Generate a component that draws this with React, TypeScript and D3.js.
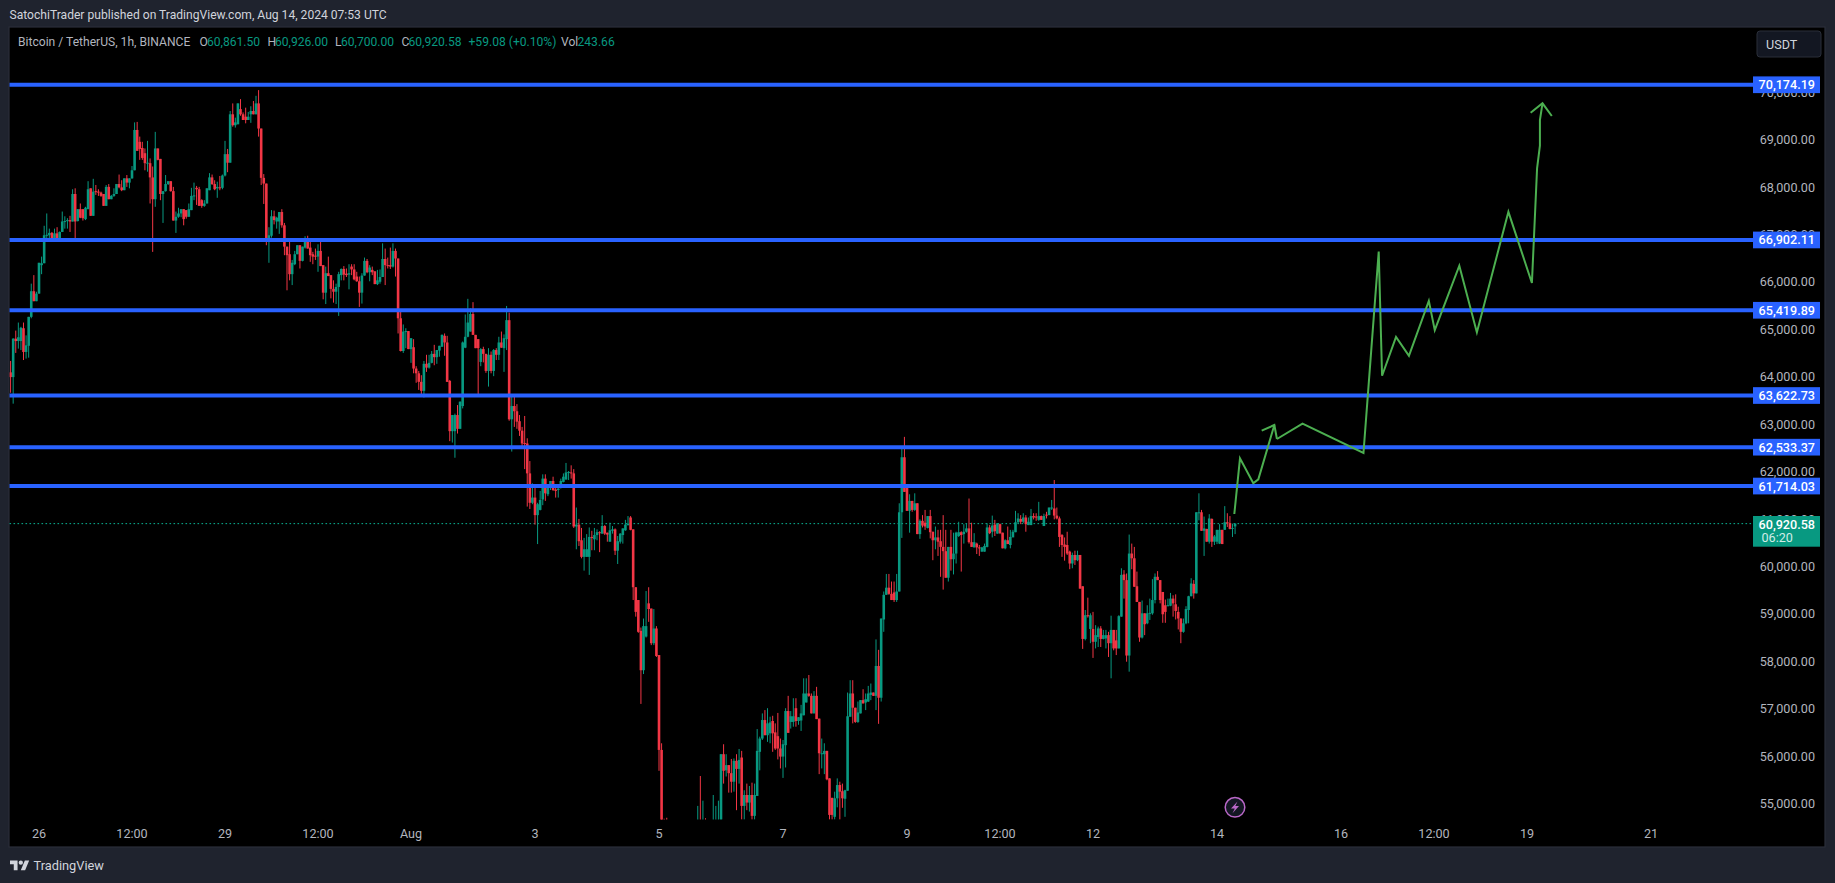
import React from "react";
import * as d3 from "d3";

// Hourly candles: [open, high, low, close]
const barsFromJul25 = [
[64110,64350,63680,64010],[64010,64830,63450,64820],[64820,64990,64520,64770],[64770,65160,64610,64850],[64770,65070,64580,65050],
[65040,65160,64370,64540],[64540,64890,64400,64680],[64670,65280,64420,65280],[65280,65980,65250,65820],[65820,66160,65610,65610],
[65610,65810,65610,65770],[65770,66420,65770,66420],[66370,66550,66180,66410],[66410,67200,66410,67000],[66990,67460,66920,67010],
[67000,67140,66860,67050],[67050,67070,66860,66900],[66900,67140,66860,67040],[67040,67170,66860,66860],[66860,67080,66860,67070],
[67070,67500,67070,67290],[67280,67400,67140,67300],[67300,67360,67140,67320],[67320,67410,67070,67290],[67290,67970,67290,67870],
[67870,67990,66880,67290],[67300,67550,67290,67550],[67550,67670,67360,67370],[67550,67550,67310,67360],[67340,67600,67320,67580],
[67550,68140,67550,67970],[67990,67990,67410,67410],[67410,68190,67410,67920],[67930,68060,67850,67920],[67920,67970,67830,67900],
[67900,67920,67810,67830],[67870,67870,67620,67620],[67620,68060,67620,68020],[68020,68080,67760,67760],[67760,67850,67760,67830],
[67830,67990,67810,67870],[67870,68080,67870,68080],[68080,68280,67990,68010],[68010,68160,67930,67950],[67950,68200,67950,68200],
[68200,68270,68020,68110],[68110,68200,67990,68200],[68200,68460,68190,68370],[68370,69380,68370,69220],[69220,69390,68780,68780],
[68970,69080,68590,68820],[68840,68970,68590,68630],[68730,68830,68370,68520],[68520,68990,68340,68530],[68520,68620,67670,68220],
[68220,68450,66650,67760],[67760,69180,67600,68830],[68830,68830,68580,68590],[68610,68610,67740,67870],[67870,67930,67260,67930],
[67930,68270,67920,68080],[68080,68140,68060,68140],[68140,68140,67920,67930],[67930,68020,67310,67310],[67310,67500,67050,67390],
[67390,67580,67370,67460],[67460,67550,67380,67550],[67550,67550,67210,67340],[67530,67530,67350,67390],[67390,67670,67390,67550],
[67530,68000,67530,67830],[67830,68110,67740,67840],[68000,68040,67640,67970],[67970,68020,67620,67620],[67740,67760,67580,67620],
[67620,67740,67600,67670],[67670,67990,67670,67990],[67950,68310,67950,68220],[68220,68280,68060,68080],[68080,68160,67950,67970],
[67990,68130,67790,68020],[68010,68250,67950,68000],[68000,68280,67970,68260],[68260,68990,68240,68710],[68710,68820,68330,68530],
[68530,69620,68530,69550],[69550,69780,69290,69320],[69320,69480,69270,69380],[69340,69780,69340,69780],[69660,69870,69520,69550],
[69550,69590,69430,69430],[69500,69690,69360,69430],[69430,69600,69430,69500],[69550,69720,69370,69620],[69620,69830,69550,69550],
[69550,69940,69550,69780],[69780,70060,69080,69250],[69250,69250,68060,68210],[68210,68290,67660,68090],[68090,68090,66790,66900],
];
const barsFromJul29 = [
[66900,67170,66420,67000],[66990,67530,66950,67400],[67400,67520,67230,67320],[67290,67390,67140,67370],[67290,67490,67030,67490],
[67490,67550,67160,67210],[67210,67260,66580,66760],[66760,66760,65840,66580],[66600,66880,66050,66180],[66180,66480,65950,66420],
[66390,66670,66370,66600],[66600,66790,66600,66790],[66790,66790,66300,66460],[66460,66760,66450,66760],[66740,66980,66720,66930],
[66930,66990,66720,66720],[66740,66900,66440,66580],[66600,66650,66390,66550],[66570,66720,66480,66550],[66550,66810,66230,66670],
[66670,66930,66350,66350],[66370,66370,65650,65790],[65790,66340,65550,66200],[66200,66550,66140,66140],[66160,66160,65670,65870],
[65870,66050,65580,65810],[65810,65980,65550,65910],[65910,66230,65300,66180],[66160,66300,66050,66290],[66290,66350,66050,66170],
[66190,66300,66120,66160],[66170,66390,65860,66200],[66340,66390,66160,66280],[66280,66390,66050,66070],[66130,66230,66020,66030],
[66030,66130,65490,65790],[65790,66200,65560,66150],[66150,66530,66150,66460],[66460,66500,66200,66220],[66220,66370,66030,66320],
[66270,66340,66160,66220],[66240,66240,65970,65970],[65970,66270,65950,66050],[66020,66280,65980,66120],[66120,66830,66120,66500],
[66500,66720,65950,66370],[66370,66530,66300,66360],[66370,66740,66290,66340],[66340,66830,66320,66670],[66670,66720,66130,66510],
[66510,66510,64930,65250],[65250,65390,64550,64560],[64560,65120,64520,64970],[64970,65040,64620,64980],[64980,64980,64600,64600],
[64600,64830,64310,64830],[64640,64810,64090,64190],[64190,64240,63890,64090],[64090,64140,63740,63910],[63910,64050,63620,63720],
[63720,64350,63580,64290],[64290,64480,64120,64210],[64210,64480,64190,64310],[64310,64560,64300,64500],[64500,64690,64260,64430],
[64430,64580,64290,64580],[64570,64670,64440,64670],[64650,64910,64650,64900],[64880,64930,64460,64740],[64740,64880,63910,63910],
[63930,63950,62660,62870],[62870,63210,62630,63210],[62870,63240,62310,63210],[63210,63420,62820,62920],[62920,63500,62920,63490],
[63400,64760,63350,64740],[64630,65330,64620,64860],[64860,65660,64850,65160],[64970,65460,64970,65340],[65340,65590,64900,64900],
[64900,64900,64620,64620],[64810,64810,63650,64620],[64330,64620,64240,64600],[64600,64650,64320,64500],[64500,64500,64100,64140],
[64140,64620,63810,64480],[64480,64550,64090,64140],[64140,64600,64030,64580],[64580,64620,64370,64480],[64480,64860,64370,64740],
[64740,64970,64630,64630],[64620,64910,64120,64830],[64810,65510,64580,65210],[65210,65370,63090,63120],[63120,63630,62440,63400],
[63400,63600,62960,63290],[63290,63440,62920,63070],[63080,63210,62770,62880],[62880,62960,62520,62610],[62620,63190,62070,62600],
];
const barsFromAug2 = [
[62610,62720,61280,61980],[61980,62240,61230,61360],[61360,61770,61330,61470],[61470,61700,60900,61100],[61100,61360,60490,61330],
[61210,61610,61200,61420],[61430,61960,61310,61870],[61870,61960,61400,61560],[61540,61750,61500,61750],[61730,61820,61630,61820],
[61820,61910,61610,61630],[61640,61710,61470,61610],[61630,61730,61470,61660],[61680,61870,61660,61820],[61800,61980,61790,61910],
[61850,62200,61850,62000],[61990,62030,61840,62010],[62000,62150,61870,61990],[61980,62070,60830,60860],[60860,61260,60380,60900],
[60900,61020,60450,60550],[60570,60830,60190,60220],[60220,60620,59930,60380],[60220,60700,60220,60380],[60220,60840,59840,60640],
[60640,60770,60360,60630],[60590,60830,60360,60680],[60680,60800,60570,60740],[60740,60760,60320,60720],[60710,61100,60710,60870],
[60870,60890,60680,60710],[60730,60730,60540,60690],[60540,60940,60540,60780],[60770,60870,60710,60800],[60800,60820,60260,60350],
[60350,60660,60070,60550],[60540,60720,60500,60710],[60680,60820,60500,60820],[60780,61000,60770,60900],[60890,61080,60880,60920],
[61050,61080,60780,60790],[60800,60800,59310,59580],[59580,59580,58960,59060],[59310,59310,58620,58640],[58660,58730,57120,57830],
[57830,58920,57750,58760],[58540,59500,58520,58760],[59240,59580,58850,59120],[59130,59130,58360,58400],[58400,59120,58360,58710],
[58710,58760,58110,58130],[58150,58150,55710,56150],[56150,56290,53500,54300],[54300,54700,53500,54000],[54000,54720,53400,53600],
[53600,54100,52000,52500],[52500,53000,50800,51300],[51300,51900,49800,50400],[50400,51600,49600,51200],[51200,52300,50900,52100],
[52100,52700,51400,51700],[51700,52800,51500,52500],[52500,53500,52200,53300],[53300,53900,52700,53100],[53100,54000,52900,53700],
[53700,54300,53200,53900],[53900,54970,53500,54300],[54300,55600,53600,54000],[54000,55080,53800,54500],[54500,54710,53700,53900],
[53900,54500,53400,54200],[54200,54640,53900,54400],[54400,55200,54100,54500],[54300,54970,53900,54600],[54600,55080,54200,54640],
[54680,56060,54500,56060],[56060,56270,55440,55710],[55720,56060,55590,55830],[55830,55830,55250,55660],[55660,55960,55250,55480],
[55480,55970,55270,55920],[55920,56060,54880,55750],[55750,56170,55440,55940],[55990,56130,54680,54970],[54970,55300,54680,55200],
[55200,55440,54880,55040],[55040,55390,54850,55200],[55200,55460,54680,54760],[54760,55440,54680,55200],[55180,56590,55180,56130],
[56110,56430,55720,56390],[56390,56920,56360,56780],[56780,56990,56460,56460],[56460,57030,56320,56710],[56500,56850,56290,56730],
[56760,56870,56110,56500],[56520,56710,56150,56180],[56440,56930,55950,56180],[56180,56390,55760,56010],[56010,56360,55560,56270],
];
const barsFromAug6 = [
[56250,57030,55780,56970],[56970,57290,56510,56510],[56740,56970,56600,56860],[56740,57240,56640,56860],[57030,57240,56640,56760],
[56760,56840,56680,56840],[56770,57100,56550,56920],[56880,57660,56880,57340],[57150,57660,57150,57340],[57340,57730,57270,57290],
[57290,57340,56920,56920],[56920,57390,56920,57290],[57290,57480,56800,56800],[56810,56810,55640,56080],[56060,56390,55760,56080],
[56060,56290,55640,56130],[56130,56130,55510,55530],[55550,55550,54680,54780],[55140,55140,54680,54780],[54740,55270,54680,55130],
[55130,55550,54940,55410],[55410,55480,54680,55270],[55280,55440,54930,55130],[55120,55310,54740,55300],[55290,57360,55290,56860],
[56850,57620,56850,57340],[57340,57620,56710,57040],[57040,57040,56720,56740],[56740,57170,56720,56940],[56920,57200,56920,57200],
[57200,57430,57130,57130],[57150,57340,56990,57220],[57170,57500,57160,57340],[57310,57550,57200,57360],[57360,57360,57290,57290],
[57290,58480,56990,57920],[57920,58260,56700,57250],[57250,58920,57170,58920],[58900,59490,58640,59420],[59420,59860,59420,59570],
[59570,59860,59420,59440],[59440,59700,59310,59310],[59470,59700,59270,59310],[59310,59860,59270,59490],[59490,61350,59490,61160],
[61160,62510,60620,62320],[62320,62750,61590,61590],[61680,61730,61190,61190],[61190,61540,60730,61400],[61400,61400,61170,61210],
[61210,61560,61190,61350],[61350,61350,60700,60700],[60700,61010,60600,60980],[60980,61100,60840,60880],[60940,61210,60790,60860],
[60830,61080,60820,61080],[61080,61210,60610,60740],[60750,60750,60150,60570],[60570,60860,60380,60630],[60630,60790,60240,60540],
[60550,60790,59800,60430],[60430,61100,59530,60340],[60340,60790,59780,59780],[59780,60430,59700,60430],[60430,60790,59930,60170],
[60170,60730,59850,60290],[60290,60750,60080,60730],[60660,60960,60640,60740],[60740,60760,59910,60680],[60700,60910,60500,60750],
[60750,60930,60730,60820],[60820,61450,60500,60530],[60530,60940,60430,60430],[60420,60720,60420,60530],[60500,60520,60280,60420],
[60420,60470,60240,60400],[60330,60430,60330,60420],[60330,60500,60330,60450],[60430,60930,60420,60840],[60840,60890,60700,60720],
[60750,61090,60630,60880],[60900,61000,60660,60760],[60710,60930,60710,60930],[60910,60920,60700,60720],[60730,60730,60400,60400],
[60400,60590,60380,60570],[60570,60860,60490,60490],[60470,60790,60400,60640],[60630,60790,60640,60750],[60740,61190,60740,60950],
[60950,61140,60920,61030],[61020,61100,60910,60960],[60960,61140,60930,61050],[61050,61100,60750,60910],[60890,61050,60890,60960],
[60890,61230,60890,61080],[61080,61140,61010,61050],[61070,61140,60980,61050],[61000,61380,60980,61080],[61080,61090,61000,61000],
];
const barsFromAug10 = [
[60870,61130,60870,61080],[61110,61170,61030,61090],[61100,61260,61100,61260],[61240,61420,61210,61260],[61240,61840,61010,61090],
[61090,61260,61010,61030],[61030,61070,60430,60640],[60680,60700,60220,60470],[60480,60630,60140,60430],[60470,60750,60260,60290],
[60330,60350,59960,60080],[60080,60310,59980,60260],[60260,60350,60050,60150],[60150,60350,60130,60260],[60260,60260,59550,59550],
[59600,59600,58280,58490],[58490,59100,58460,58990],[58990,59360,58940,58970],[58700,59030,58400,58990],[58700,59060,58090,58430],
[58430,58780,58290,58570],[58530,58750,58320,58710],[58710,58760,58320,58490],[58490,58680,58480,58570],[58500,58680,58290,58570],
[58570,58640,58110,58400],[58400,58980,57660,58680],[58680,58680,58250,58290],[58460,58680,58150,58290],[58290,58990,58290,58970],
[58960,59980,58960,59840],[59850,59940,59340,59730],[59730,59870,58010,58140],[58140,60690,57800,60290],[60290,60500,59960,60190],
[60190,60430,59590,59590],[59600,59910,59270,59270],[59270,59270,58430,58520],[58520,59300,58500,59030],[59030,59030,58570,58800],
[58820,59200,58800,59030],[59020,59340,58890,59040],[59030,59750,59000,59310],[59310,59870,59240,59800],[59800,59920,59730,59730],
[59730,59730,59240,59310],[59480,59480,58830,59010],[59200,59320,58830,59060],[59190,59340,59180,59200],[59190,59460,59180,59340],
[59340,59410,58960,59240],[59220,59430,58900,59080],[59060,59170,58690,58920],[58920,58920,58400,58640],[58640,58920,58620,58820],
[58820,59180,58800,59120],[59100,59400,58820,59390],[59390,59770,59390,59660],[59650,59730,59340,59450],[59450,61160,59450,61160],
[61140,61560,60990,61160],[61160,61210,60770,60770],[60770,61070,60240,60820],[60810,60810,60540,60540],[60540,61120,60500,61030],
[61020,61030,60430,60540],[60540,60680,60470,60650],[60540,60790,60490,60790],[60500,60910,60490,60790],[60790,60790,60490,60490],
[60790,61290,60790,60950],[60950,61140,60850,60930],[60930,61080,60800,60810],[60810,60920,60640,60830],[60861.5,60926,60700,60920.58],
];
const allBars = [...barsFromJul25, ...barsFromJul29, ...barsFromAug2, ...barsFromAug6, ...barsFromAug10];

const levels = [70174.19, 66902.11, 65419.89, 63622.73, 62533.37, 61714.03];
const lastPrice = 60920.58;
const priceTicks = [70000, 69000, 68000, 67000, 66000, 65000, 64000, 63000, 62000, 61000, 60000, 59000, 58000, 57000, 56000, 55000];

const timeTicks: [string, string][] = [
  ["2024-07-26T00:00Z", "26"], ["2024-07-27T12:00Z", "12:00"], ["2024-07-29T00:00Z", "29"], ["2024-07-30T12:00Z", "12:00"],
  ["2024-08-01T00:00Z", "Aug"], ["2024-08-03T00:00Z", "3"], ["2024-08-05T00:00Z", "5"], ["2024-08-07T00:00Z", "7"],
  ["2024-08-09T00:00Z", "9"], ["2024-08-10T12:00Z", "12:00"], ["2024-08-12T00:00Z", "12"], ["2024-08-14T00:00Z", "14"],
  ["2024-08-16T00:00Z", "16"], ["2024-08-17T12:00Z", "12:00"], ["2024-08-19T00:00Z", "19"], ["2024-08-21T00:00Z", "21"],
];

// Hand-drawn projection: [hours after Aug 14 00:00 UTC, price]
const projectionA = [[6.7,61124],[8.9,62298],[14.05,61771],[16,61855],[22.2,63000]];
const projectionABarbs = [[17.3,62880],[22.2,63000],[23.2,62705]];
const projectionB = [[23.2,62705],[33.1,63030],[56.7,62412],[62.6,66655],[63.9,64039],[69.3,64855],[74.3,64458],[82,65618],[84.3,65000],[93.8,66358],[100.6,64952],[112.8,67494],[121.9,65993],[123.9,68411],[125,68888],[125,69430],[126,69782]];
const projectionBBarbs = [[121.4,69583],[126,69782],[129.6,69514]];

const UP = "#089981", DOWN = "#f23645", BLUE = "#2962ff", ARROW = "#4caf50";
const FONT = "Roboto, 'Open Sans', sans-serif";
const TXT = 12.1;

const HOUR = 3600e3;
const t14 = Date.UTC(2024, 7, 14);
const firstBar = Date.UTC(2024, 6, 25, 13);
const x = d3.scaleUtc().domain([new Date(Date.UTC(2024, 6, 26)), new Date(t14)]).range([39, 1217]);
const y = d3.scaleLinear().domain([61714.03, 70174.19]).range([486, 84.7]);
const fmt = d3.format(",.2f");
const barX = (i: number) => x(new Date(firstBar + i * HOUR));
const projLine = d3.line<number[]>().x((d) => x(new Date(t14 + d[0] * HOUR))).y((d) => y(d[1]));

const legend: [string, number, string][] = [
  ["Bitcoin / TetherUS, 1h, BINANCE", 18, "#b2b5be"],
  ["O", 199.5, "#b2b5be"], ["60,861.50", 207, UP],
  ["H", 267.5, "#b2b5be"], ["60,926.00", 275, UP],
  ["L", 335, "#b2b5be"], ["60,700.00", 341, UP],
  ["C", 401.5, "#b2b5be"], ["60,920.58", 408.5, UP],
  ["+59.08 (+0.10%)", 468.5, UP],
  ["Vol", 561, "#b2b5be"], ["243.66", 577.5, UP],
];

export default function App() {
  return (
    <svg width={1835} height={883} style={{ position: "fixed", left: 0, top: 0, display: "block" }} fontFamily={FONT}>
      <defs>
        <clipPath id="plot"><rect x={9.5} y={27} width={1743} height={792.5} /></clipPath>
      </defs>
      <rect width={1835} height={883} fill="#1f232e" />
      <rect x={9} y={27} width={1816} height={820} fill="#000" stroke="#2a2e39" strokeWidth={1.2} />
      <text x={9.5} y={19} fontSize={TXT} fill="#d1d4dc">SatochiTrader published on TradingView.com, Aug 14, 2024 07:53 UTC</text>
      {legend.map(([s, lx, c]) => (
        <text key={s + lx} x={lx} y={46} fontSize={TXT} fill={c}>{s}</text>
      ))}

      <line x1={9.5} x2={1752} y1={y(lastPrice)} y2={y(lastPrice)} stroke="#0bb394" strokeWidth={1} strokeDasharray="1.6 2.4" />

      <g clipPath="url(#plot)">
        {allBars.map(([o, h, l, c], i) => {
          const col = c >= o ? UP : DOWN;
          const cx = barX(i);
          const top = y(Math.max(o, c));
          return (
            <g key={i} fill={col}>
              <rect x={cx - 0.5} width={1} y={y(h)} height={Math.max(y(l) - y(h), 1)} />
              <rect x={cx - 1.3} width={2.6} y={top} height={Math.max(y(Math.min(o, c)) - top, 1)} />
            </g>
          );
        })}
      </g>

      {levels.map((p) => (
        <line key={p} x1={9.5} x2={1753} y1={y(p)} y2={y(p)} stroke={BLUE} strokeWidth={4} />
      ))}

      <g fill="none" stroke={ARROW} strokeWidth={2} strokeLinejoin="miter">
        <path d={projLine(projectionA) ?? ""} />
        <path d={projLine(projectionABarbs) ?? ""} />
        <path d={projLine(projectionB) ?? ""} />
        <path d={projLine(projectionBBarbs) ?? ""} />
      </g>

      {priceTicks.map((p) => (
        <text key={p} x={1815} y={y(p) - 0.8} dy="0.36em" textAnchor="end" fontSize={12.6} fill="#b2b5be">{fmt(p)}</text>
      ))}
      {levels.map((p) => (
        <g key={p}>
          <rect x={1753} y={y(p) - 8.3} width={67} height={16.7} fill={BLUE} />
          <text x={1815} y={y(p)} dy="0.36em" textAnchor="end" fontSize={12.6} fontWeight={500} fill="#fff">{fmt(p)}</text>
        </g>
      ))}
      <rect x={1753} y={516} width={67} height={30.7} fill={UP} />
      <text x={1815} y={524} dy="0.36em" textAnchor="end" fontSize={12.6} fontWeight={500} fill="#fff">{fmt(lastPrice)}</text>
      <text x={1761.5} y={537.6} dy="0.36em" fontSize={12.6} fill="#d0ece6">06:20</text>

      <rect x={1757} y={31} width={64} height={26} rx={3} fill="#131722" stroke="#2a2e39" strokeWidth={1} />
      <text x={1766} y={44.6} dy="0.36em" fontSize={12.6} fill="#d1d4dc">USDT</text>

      {timeTicks.map(([d, s], i) => (
        <text key={i} x={x(new Date(d))} y={833.7} dy="0.36em" textAnchor="middle" fontSize={12.6} fill="#b2b5be">{s}</text>
      ))}

      <circle cx={1235} cy={807.3} r={9.8} fill="#131722" stroke="#ba68c8" strokeWidth={1.5} />
      <path d="M1237.5 801.5 L1231 808.5 L1234.8 808.5 L1232.5 813.2 L1239 806 L1235.3 806 Z" fill="#ba68c8" />

      <g transform="translate(10,860) scale(0.54)" fill="#d1d4dc">
        <path d="M14 19H7V8H0V1h14v18zM28 19h-8l7.5-18h8L28 19z" />
        <circle cx={20} cy={5} r={4} />
      </g>
      <text x={33.5} y={865.7} dy="0.36em" fontSize={12.8} fill="#d1d4dc">TradingView</text>
    </svg>
  );
}
